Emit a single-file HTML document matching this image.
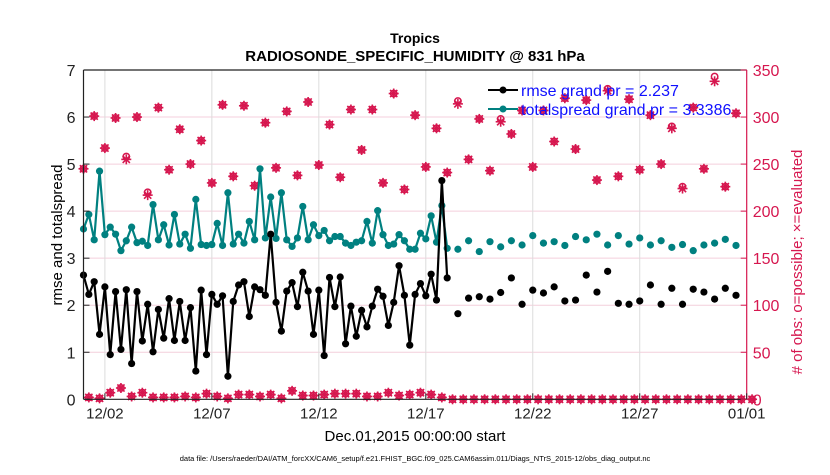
<!DOCTYPE html>
<html><head><meta charset="utf-8"><style>
body{margin:0;background:#fff;}
svg{font-family:"Liberation Sans",sans-serif;}
</style></head><body>
<svg id="chart" width="830" height="470" viewBox="0 0 830 470" xmlns="http://www.w3.org/2000/svg">
<rect width="830" height="470" fill="#fff"/>
<g id="grid"></g>
<g id="series"></g>
<g id="axes"></g>
<text x="415" y="43" text-anchor="middle" font-size="14" font-weight="bold">Tropics</text>
<text x="415" y="61" text-anchor="middle" font-size="15" font-weight="bold">RADIOSONDE_SPECIFIC_HUMIDITY @ 831 hPa</text>
<text x="415" y="441" text-anchor="middle" font-size="15">Dec.01,2015 00:00:00 start</text>
<text transform="translate(62,235) rotate(-90)" text-anchor="middle" font-size="15">rmse and totalspread</text>
<text transform="translate(802,262) rotate(-90)" text-anchor="middle" font-size="15" fill="#d6174f">#  of obs: o=possible; ×=evaluated</text>
<text x="415" y="461" text-anchor="middle" font-size="7.5">data file: /Users/raeder/DAI/ATM_forcXX/CAM6_setup/f.e21.FHIST_BGC.f09_025.CAM6assim.011/Diags_NTrS_2015-12/obs_diag_output.nc</text>
<g id="legend">
<line x1="488" y1="90" x2="518" y2="90" stroke="#000" stroke-width="2"/>
<circle cx="503" cy="90" r="3.5" fill="#000"/>
<text x="521" y="96" font-size="16" fill="#1010ff">rmse grand pr = 2.237</text>
<line x1="488" y1="109" x2="518" y2="109" stroke="#008080" stroke-width="2"/>
<circle cx="503" cy="109" r="3.5" fill="#008080"/>
<text x="521" y="115" font-size="16" fill="#1010ff">totalspread grand pr = 3.3386</text>
</g>
</svg>
<script>
const rmseEarly=[2.64,2.23,2.50,1.38,2.39,0.95,2.29,1.06,2.33,0.76,2.29,1.24,2.02,1.01,1.91,1.30,2.14,1.25,2.08,1.25,1.95,0.60,2.32,0.95,2.23,2.02,2.20,0.49,2.08,2.43,2.50,1.76,2.39,2.33,2.21,3.51,2.06,1.45,2.30,2.48,1.97,2.70,2.30,1.38,2.32,0.93,2.59,1.97,2.60,1.18,1.98,1.34,1.89,1.54,1.98,2.34,2.19,1.57,2.06,2.84,2.21,1.15,2.23,2.46,2.20,2.66,2.11,4.65,2.58];
const spreadEarly=[3.62,3.93,3.39,4.85,3.50,3.66,3.51,3.16,3.37,3.66,3.33,3.36,3.27,4.14,3.39,3.71,3.28,3.93,3.30,3.51,3.21,4.25,3.29,3.27,3.29,3.74,3.27,4.39,3.30,3.51,3.32,3.78,3.39,4.90,3.43,4.30,3.42,4.39,3.39,3.25,3.43,4.10,3.39,3.71,3.48,3.59,3.37,3.46,3.46,3.32,3.27,3.34,3.37,3.78,3.32,4.01,3.50,3.27,3.30,3.50,3.37,3.19,3.19,3.53,3.41,3.90,3.34,4.12,3.21];
const rmseLate=[1.82,2.15,2.18,2.13,2.27,2.58,2.02,2.32,2.26,2.39,2.09,2.11,2.64,2.28,2.72,2.04,2.02,2.09,2.43,2.02,2.36,2.02,2.34,2.28,2.13,2.36,2.21];
const spreadLate=[3.19,3.37,3.14,3.35,3.24,3.37,3.28,3.48,3.32,3.35,3.27,3.46,3.39,3.51,3.28,3.48,3.30,3.43,3.28,3.37,3.23,3.29,3.16,3.28,3.32,3.40,3.27];
const obsEvalMain=[245,301,267,299,255,300,217,310,244,287,250,275,230,313,237,312,227,294,246,306,238,316,249,292,236,308,265,308,230,325,223,302,247,288,241];
const obsPossMain=[245,301,267,299,258,300,220,310,244,287,250,275,230,313,237,312,227,294,246,306,238,316,249,292,236,308,265,308,230,325,223,302,247,288,241];
const obsEvalOff=[2,1,7,12,3,7,2,2,2,3,2,6,3,1,5,5,3,5,1,9,4,4,5,6,6,6,3,3,7,4,5,7,5,2];
const obsEvalLate=[314,255,298,243,295,282,307,247,307,274,320,266,318,233,328,237,319,244,302,250,288,224,310,245,338,226,304];
const obsPossLate=[317,255,298,243,298,282,307,247,307,274,320,266,318,233,330,237,319,244,302,250,290,226,310,245,343,226,304];
const obsLateOff=[0,0,0,0,0,0,0,0,0,0,0,0,0,0,0,0,0,0,0,0,0,0,0,0,0,0,0,0,0];
const xTickLabels=["12/02","12/07","12/12","12/17","12/22","12/27","01/01"];
const xTickDays=[1,6,11,16,21,26,31];
const leftTicks=[0,1,2,3,4,5,6,7];
const rightTicks=[0,50,100,150,200,250,300,350];

const NS="http://www.w3.org/2000/svg";
const L=83.5,R=746.7,T=70,B=399.3;
const X=t=>L+(R-L)*t/31;
const Y=v=>B-(B-T)*v/7;
const YR=n=>B-(B-T)*n/350;
function mk(tag,attrs,parent){const e=document.createElementNS(NS,tag);for(const k in attrs)e.setAttribute(k,attrs[k]);parent.appendChild(e);return e;}
const grid=document.getElementById('grid'),ser=document.getElementById('series'),ax=document.getElementById('axes');
rightTicks.forEach(n=>{if(n>0&&n<350){const l=mk('line',{x1:L,x2:R,y1:YR(n),y2:YR(n),stroke:'#f4cfdc','stroke-width':1},grid);

}});
xTickDays.forEach(d=>{if(d<31){const l=mk('line',{x1:X(d),x2:X(d),y1:T,y2:B,stroke:'#dcdcdc','stroke-width':1},grid);

}});
const tE=rmseEarly.map((_,i)=>i*0.25);
const tL=rmseLate.map((_,i)=>17.5+i*0.5);
function line(ts,vs,color,name){
 const p=mk('polyline',{points:ts.map((t,i)=>X(t)+','+Y(vs[i])).join(' '),fill:'none',stroke:color,'stroke-width':2.2},ser);
 
 
}
function dots(ts,vs,color,name){ts.forEach((t,i)=>{const c=mk('circle',{cx:X(t),cy:Y(vs[i]),r:3.6,fill:color},ser);
 
 });}
function star(x,y){const g=mk('g',{stroke:'#d6174f','stroke-width':1.6},ser);
 
 
 mk('line',{x1:x-5,x2:x+5,y1:y,y2:y},g);mk('line',{x1:x,x2:x,y1:y-5,y2:y+5},g);
 mk('line',{x1:x-3.6,x2:x+3.6,y1:y-3.6,y2:y+3.6},g);mk('line',{x1:x-3.6,x2:x+3.6,y1:y+3.6,y2:y-3.6},g);}
function ring(x,y){const c=mk('circle',{cx:x,cy:y,r:3.2,fill:'none',stroke:'#d6174f','stroke-width':1.5},ser);
 
 }
function obs(ts,ev,po){ts.forEach((t,i)=>{ring(X(t),YR(po[i]));star(X(t),YR(ev[i]));});}
obs(obsEvalMain.map((_,i)=>i*0.5),obsEvalMain,obsPossMain);
obs(obsEvalOff.map((_,i)=>0.25+i*0.5),obsEvalOff,obsEvalOff);
obs(tL,obsEvalLate,obsPossLate);
obs(obsLateOff.map((_,i)=>17.25+i*0.5),obsLateOff,obsLateOff);
line(tE,spreadEarly,'#008080','totalspread');dots(tE,spreadEarly,'#008080','totalspread');dots(tL,spreadLate,'#008080','totalspread');
line(tE,rmseEarly,'#000','rmse');dots(tE,rmseEarly,'#000','rmse');dots(tL,rmseLate,'#000','rmse');
const lb=mk('line',{x1:L,x2:L,y1:T,y2:B,stroke:'#222','stroke-width':1.2},ax);


const tb=mk('line',{x1:L,x2:R,y1:T,y2:T,stroke:'#222','stroke-width':1.2},ax);


const bb=mk('line',{x1:L,x2:R,y1:B,y2:B,stroke:'#222','stroke-width':1.2},ax);


const rb=mk('line',{x1:R,x2:R,y1:T,y2:B,stroke:'#d6174f','stroke-width':1.2},ax);


leftTicks.forEach(v=>{mk('line',{x1:L,x2:L+6,y1:Y(v),y2:Y(v),stroke:'#222'},ax);
 const t=mk('text',{x:L-8,y:Y(v)+6,'text-anchor':'end','font-size':16,fill:'#222'},ax);t.textContent=v;
 
 });
rightTicks.forEach(n=>{mk('line',{x1:R-6,x2:R,y1:YR(n),y2:YR(n),stroke:'#d6174f'},ax);
 const t=mk('text',{x:R+6,y:YR(n)+6,'font-size':16,fill:'#d6174f'},ax);t.textContent=n;
 
 });
xTickDays.forEach((d,i)=>{mk('line',{x1:X(d),x2:X(d),y1:B,y2:B-6,stroke:'#222'},ax);
 const t=mk('text',{x:X(d),y:B+19,'text-anchor':'middle','font-size':15,fill:'#222'},ax);t.textContent=xTickLabels[i];
 
 });
</script>
</body></html>
